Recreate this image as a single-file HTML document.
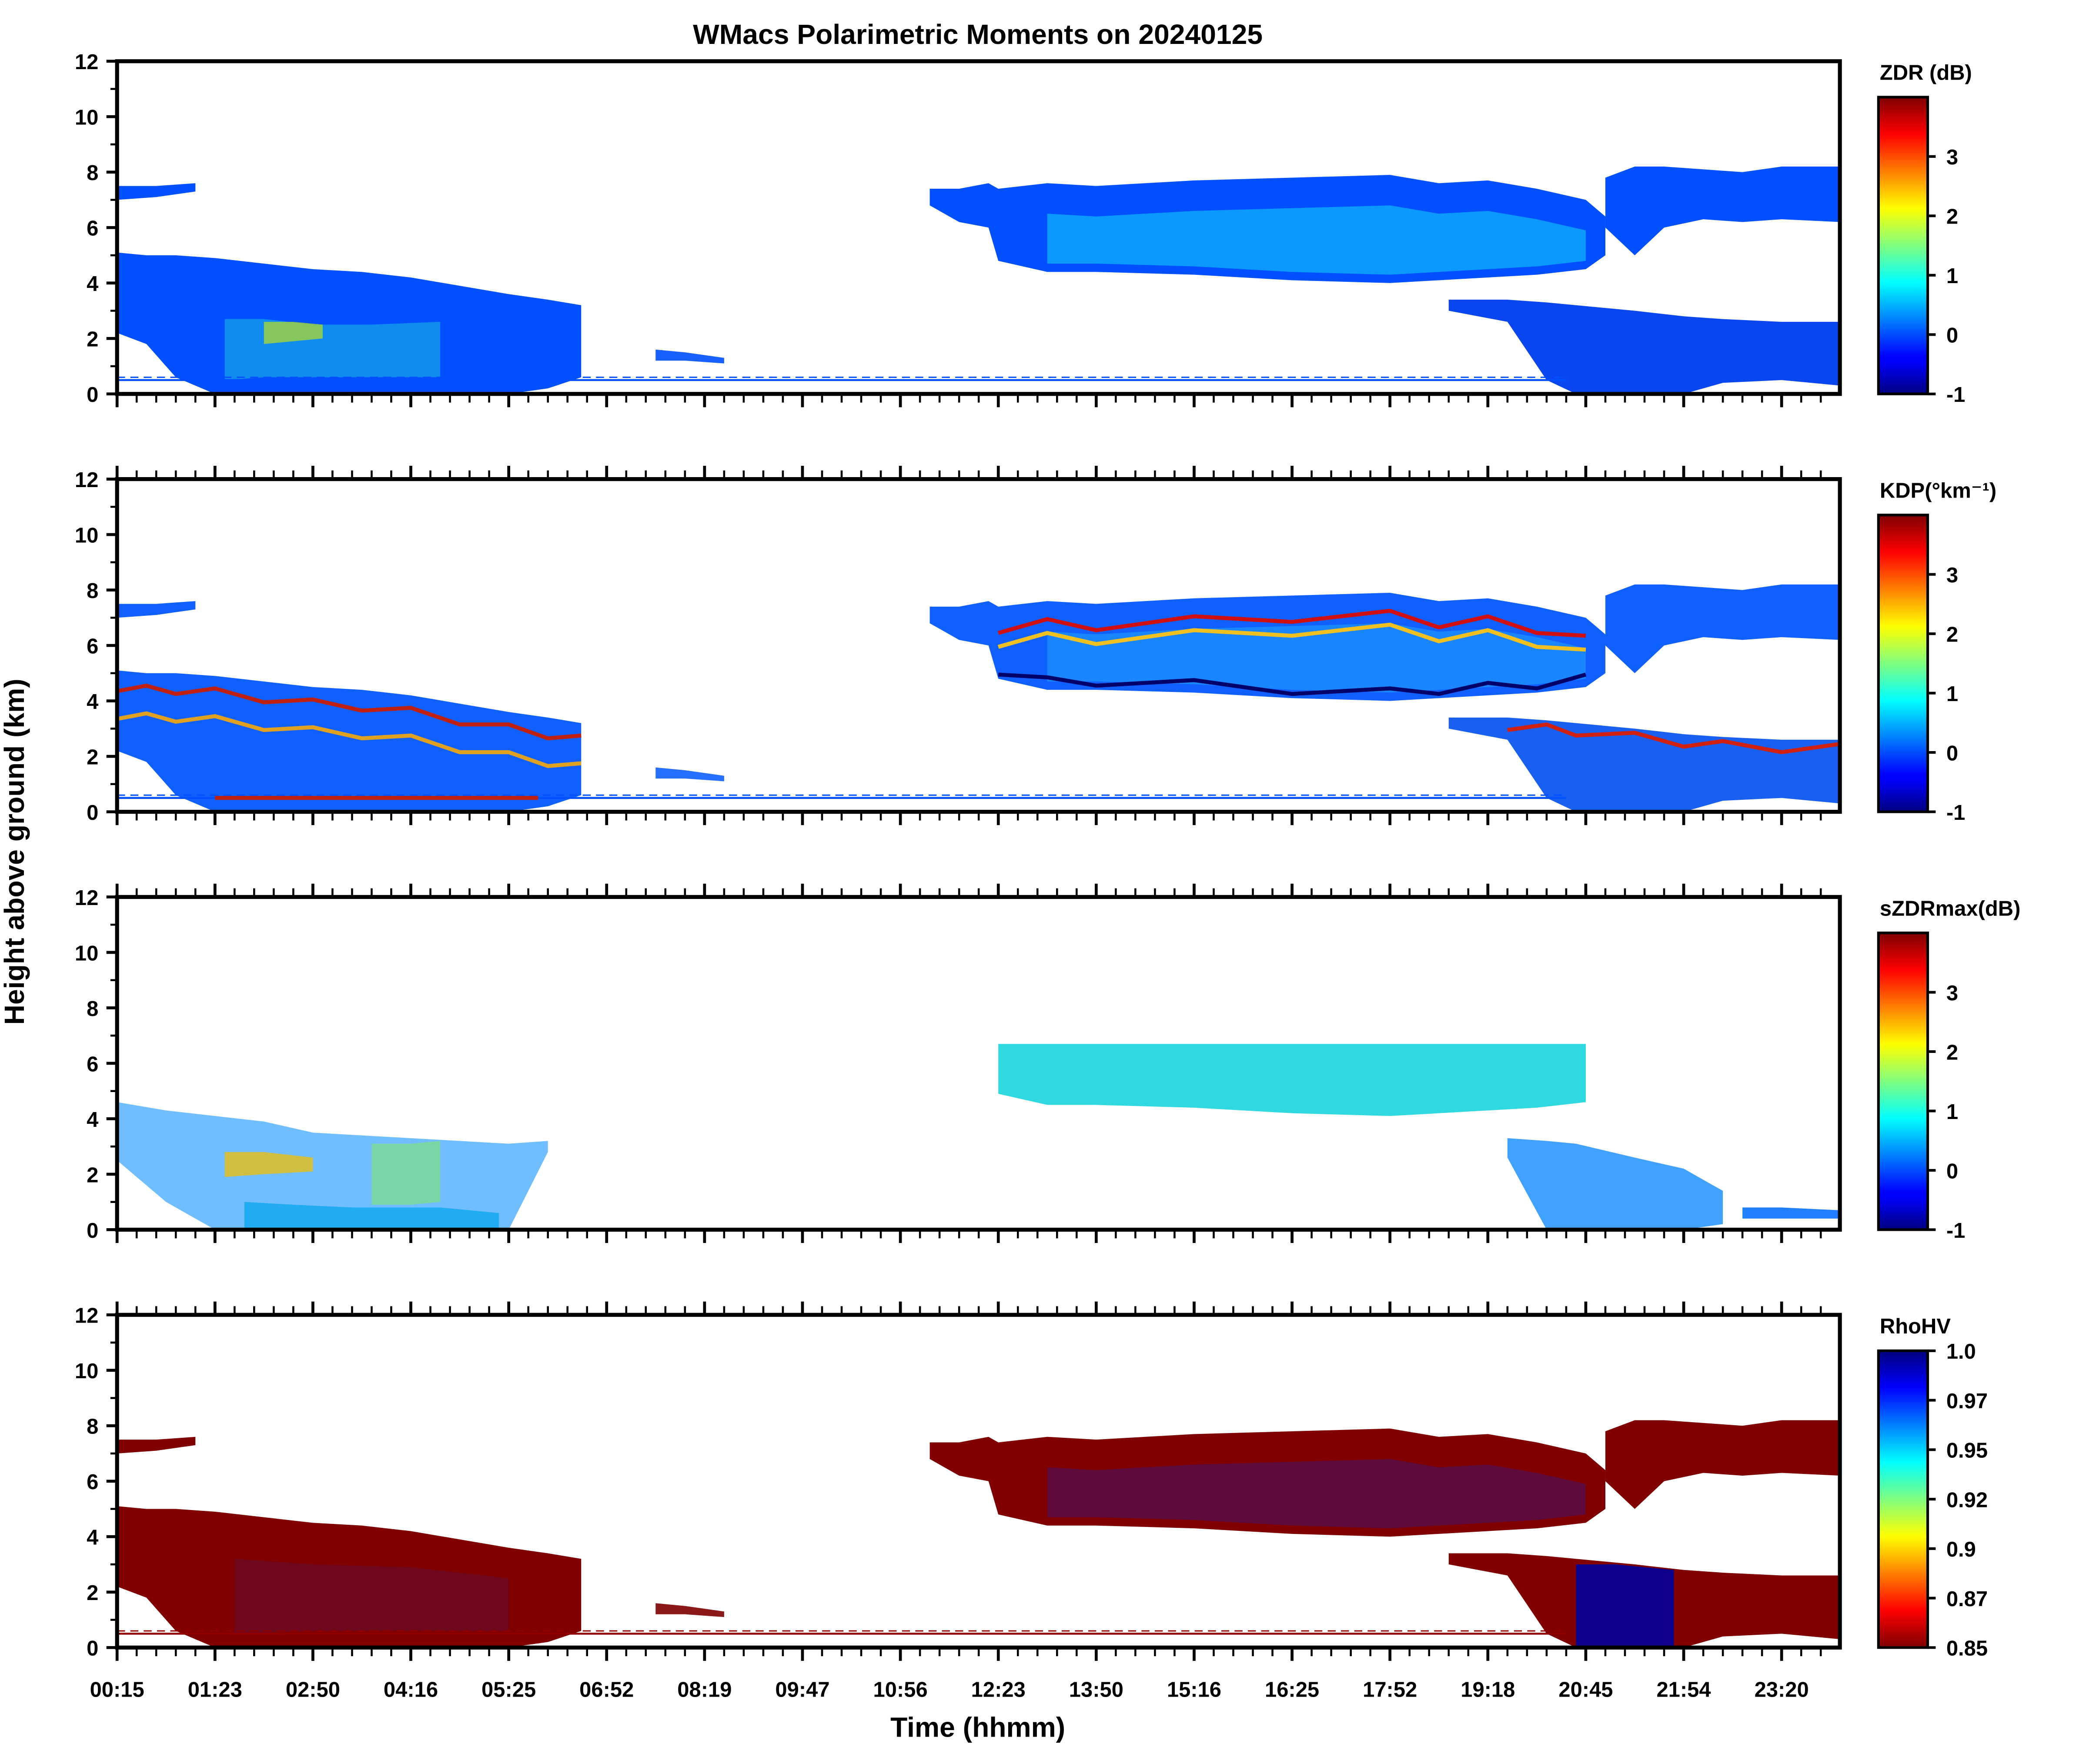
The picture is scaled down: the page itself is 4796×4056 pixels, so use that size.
<!DOCTYPE html>
<html><head><meta charset="utf-8"><style>
html,body{margin:0;padding:0;background:#fff}
svg{display:block}
text{font-family:"Liberation Sans","DejaVu Sans",sans-serif;font-weight:bold;fill:#000}
</style></head><body>
<svg id="chart" width="4796" height="4056" viewBox="0 0 1568 1325.5" preserveAspectRatio="none" xmlns="http://www.w3.org/2000/svg">
<defs>
<linearGradient id="jet" x1="0" y1="1" x2="0" y2="0">
<stop offset="0" stop-color="#00007f"/><stop offset="0.11" stop-color="#0000ff"/><stop offset="0.125" stop-color="#0000ff"/><stop offset="0.375" stop-color="#00ffff"/><stop offset="0.625" stop-color="#ffff00"/><stop offset="0.875" stop-color="#ff0000"/><stop offset="1" stop-color="#7f0000"/>
</linearGradient>
<linearGradient id="jetr" x1="0" y1="0" x2="0" y2="1">
<stop offset="0" stop-color="#00007f"/><stop offset="0.125" stop-color="#0000ff"/><stop offset="0.375" stop-color="#00ffff"/><stop offset="0.625" stop-color="#ffff00"/><stop offset="0.875" stop-color="#ff0000"/><stop offset="1" stop-color="#7f0000"/>
</linearGradient>
</defs>
</svg>
<script>
// ---- data ----
const timeLabels=["00:15","01:23","02:50","04:16","05:25","06:52","08:19","09:47","10:56","12:23","13:50","15:16","16:25","17:52","19:18","20:45","21:54","23:20"];
const heightTicks=[0,2,4,6,8,10,12];
const layerAU=[0,0.3,0.6,1,1.5,2,2.5,3,3.5,4,4.4,4.74];
const layerATop=[5.1,5.0,5.0,4.9,4.7,4.5,4.4,4.2,3.9,3.6,3.4,3.2];
const layerABot=[2.2,1.8,0.6,0,0,0,0,0,0,0,0.2,0.6];
const capU=[0,0.4,0.8];const capTop=[7.5,7.5,7.6];const capBot=[7.0,7.1,7.3];
const layerBU=[8.3,8.6,8.9,9.0,9.5,10,11,12,13,13.5,14,14.5,15,15.2];
const layerBTop=[7.4,7.4,7.6,7.4,7.6,7.5,7.7,7.8,7.9,7.6,7.7,7.4,7.0,6.4];
const layerBBot=[6.8,6.2,6.0,4.8,4.4,4.4,4.3,4.1,4.0,4.1,4.2,4.3,4.5,5.0];
const layerB2U=[15.2,15.5,15.8,16.2,16.6,17,17.6];
const layerB2Top=[7.8,8.2,8.2,8.1,8.0,8.2,8.2];
const layerB2Bot=[6.0,5.0,6.0,6.3,6.2,6.3,6.2];
const layerCU=[13.6,14.2,14.6,14.9,15.5,16,16.4,17,17.6];
const layerCTop=[3.4,3.4,3.3,3.2,3.0,2.8,2.7,2.6,2.6];
const layerCBot=[3.0,2.6,0.5,0,0,0,0.4,0.5,0.3];
const lowU=[5.5,5.8,6.2];const lowTop=[1.6,1.5,1.3];const lowBot=[1.2,1.2,1.1];
const cbTicks=[[-1,0,1,2,3],[-1,0,1,2,3],[-1,0,1,2,3],[0.85,0.87,0.9,0.92,0.95,0.97,1.0]];
const cbTickLabels=[["-1","0","1","2","3"],["-1","0","1","2","3"],["-1","0","1","2","3"],["0.85","0.87","0.9","0.92","0.95","0.97","1.0"]];
const cbTitles=["ZDR (dB)","KDP(°km⁻¹)","sZDRmax(dB)","RhoHV"];
// ---- layout ----
const svg=document.getElementById('chart');const NS='http://www.w3.org/2000/svg';
const X0=88,X1=1383,UNIT=73.6;
const panelTops=[46,360,674,988],PH=250;
function xs(u){return X0+u*UNIT;}
function el(tag,attrs,parent){const e=document.createElementNS(NS,tag);for(const k in attrs)e.setAttribute(k,attrs[k]);(parent||svg).appendChild(e);return e;}
function txt(s,x,y,size,anchor,parent){const t=el('text',{x:x,y:y,'font-size':size,'text-anchor':anchor||'start'},parent);t.textContent=s;return t;}
function band(g,U,T,B,ys,fill,op){let p=[];for(let i=0;i<U.length;i++)p.push(xs(U[i])+','+ys(T[i]));for(let i=U.length-1;i>=0;i--)p.push(xs(U[i])+','+ys(B[i]));const e=el('polygon',{points:p.join(' '),fill:fill,opacity:op||1},g);return e;}
function scaleArr(A,f){return A.map(f);}

const styles=[
 {a:'#0050ff',b:'#0050ff',c:'#0a46f0',inner:'#10b8ff',innerOp:0.7,line:'#0050ff'},
 {a:'#1060ff',b:'#1060ff',c:'#1a60f0',inner:'#20a0ff',innerOp:0.6,line:'#0050ff'},
 null,
 {a:'#800000',b:'#800000',c:'#800000',inner:'#2a1a90',innerOp:0.4,line:'#900000'}
];

txt('WMacs Polarimetric Moments on 20240125',735,33,21,'middle');

for(let p=0;p<4;p++){
 const top=panelTops[p],bot=top+PH;
 const ys=v=>bot-v/12*PH;
 const g=el('g',{});
 
 
 const st=styles[p];
 if(p!==2){
  band(g,capU,capTop,capBot,ys,st.a);
  const a=band(g,layerAU,layerATop,layerABot,ys,st.a);
  const b=band(g,layerBU,layerBTop,layerBBot,ys,st.b);
  band(g,layerB2U,layerB2Top,layerB2Bot,ys,st.b);
  const c=band(g,layerCU,layerCTop,layerCBot,ys,st.c);
  band(g,lowU,lowTop,lowBot,ys,st.a,0.9);
  band(g,layerBU.slice(4,13),scaleArr(layerBTop.slice(4,13),v=>v-1.1),scaleArr(layerBBot.slice(4,13),v=>v+0.3),ys,st.inner,st.innerOp);
  if(p===3){band(g,[14.9,15.3,15.9],[3.0,3.0,2.8],[0,0,0],ys,'#00009a',0.9);band(g,[1.2,2.0,3.0,4.0],[3.2,3.0,2.9,2.5],[0.5,0.6,0.6,0.6],ys,'#1030c0',0.15);}
  if(p===0){band(g,[1.1,1.5,2,2.6,3.3],[2.7,2.7,2.5,2.5,2.6],[0.5,0.6,0.6,0.6,0.6],ys,'#20c8e0',0.5);band(g,[1.5,1.8,2.1],[2.6,2.6,2.5],[1.8,1.9,2.0],ys,'#b8e020',0.7);}
  el('line',{x1:xs(0),x2:xs(14.8),y1:ys(0.5),y2:ys(0.5),stroke:st.line,'stroke-width':1.5},g);
  el('line',{x1:xs(0),x2:xs(14.8),y1:ys(0.6),y2:ys(0.6),stroke:st.line,'stroke-width':1,'stroke-dasharray':'6 4'},g);
  if(p===1){
   const stripes=[[layerBU.slice(3,13),layerBTop.slice(3,13),-0.8,'#d01010'],[layerBU.slice(3,13),layerBTop.slice(3,13),-1.3,'#f0c020'],[layerBU.slice(3,13),layerBBot.slice(3,13),0.3,'#00006a'],[layerAU,layerATop,-0.6,'#c02010'],[layerAU,layerATop,-1.6,'#e0a020'],[layerCU.slice(1),layerCTop.slice(1),-0.3,'#d02010']];
   stripes.forEach(s=>{const pts=s[0].map((u,i)=>xs(u)+','+ys(s[1][i]+s[2]+((i%2)?0.15:-0.15))).join(' ');el('polyline',{points:pts,fill:'none',stroke:s[3],'stroke-width':3},g);});
   el('line',{x1:xs(1),x2:xs(4.3),y1:ys(0.5),y2:ys(0.5),stroke:'#c02010','stroke-width':3},g);
  }
 } else {
  band(g,layerBU.slice(3,13),scaleArr(layerBTop.slice(3,13),v=>Math.min(v,7.0)-0.3),scaleArr(layerBBot.slice(3,13),v=>v+0.1),ys,'#30d8e0');
  band(g,[0,0.5,1,1.5,2,2.5,3,3.5,4,4.4],[4.6,4.3,4.1,3.9,3.5,3.4,3.3,3.2,3.1,3.2],[2.5,1.0,0,0,0,0,0,0,0,2.8],ys,'#40a8ff',0.75);
  band(g,[1.3,1.8,2.4,3.3,3.9],[1.0,0.9,0.8,0.8,0.6],[0,0,0,0,0],ys,'#18a8f0',0.9);
  band(g,[1.1,1.5,2.0],[2.8,2.8,2.6],[1.9,2.0,2.1],ys,'#e0c020',0.85);
  band(g,[2.6,3.0,3.3],[3.1,3.1,3.2],[0.9,0.9,1.0],ys,'#80e080',0.7);
  band(g,layerCU.slice(1,7),[3.3,3.2,3.1,2.6,2.2,1.4],[2.6,0,0,0,0,0.2],ys,'#2090ff',0.85);
  band(g,[16.6,17,17.6],[0.8,0.8,0.7],[0.4,0.4,0.4],ys,'#2080ff');
 }
 el('rect',{x:X0,y:top,width:X1-X0,height:PH,fill:'none',stroke:'#000','stroke-width':3},g);
 for(let k=0;k<=17*5+3;k++){const u=k/5;if(xs(u)>X1)break;const maj=k%5===0,L=maj?10:6.5,w=maj?2.2:1.5;
  el('line',{x1:xs(u),x2:xs(u),y1:bot,y2:bot+L,stroke:'#000','stroke-width':w},g);
  if(p>0)el('line',{x1:xs(u),x2:xs(u),y1:top,y2:top-L,stroke:'#000','stroke-width':w},g);}
 for(let v=0;v<=12;v++){const maj=v%2===0;el('line',{x1:X0,x2:X0-(maj?8:5),y1:ys(v),y2:ys(v),stroke:'#000','stroke-width':maj?2.2:1.5},g);}
 heightTicks.forEach(v=>{const t=txt(String(v),X0-14,ys(v)+6,16,'end',g);});
 const cbT=top+27,cbB=bot,cx=1412,cw=37;
 const cb=el('rect',{x:cx,y:cbT,width:cw,height:cbB-cbT,fill:p===3?'url(#jetr)':'url(#jet)',stroke:'#000','stroke-width':2},g);
 
 
 const vmin=p===3?0.85:-1,vmax=p===3?1.0:4;
 cbTicks[p].forEach((v,i)=>{let y;if(p===3)y=cbB-i*(cbB-cbT)/6;else y=cbB-(v-vmin)/(vmax-vmin)*(cbB-cbT);
  el('line',{x1:cx+cw,x2:cx+cw+6,y1:y,y2:y,stroke:'#000','stroke-width':2},g);
  txt(cbTickLabels[p][i],cx+cw+14,y+6,16,'start',g);});
 const ct=txt(cbTitles[p],1413,top+14,16,'start',g);
}
timeLabels.forEach((s,i)=>{const t=txt(s,xs(i),1275,16,'middle');});
const xl=txt('Time (hhmm)',735,1305,21,'middle');
const yl=txt('Height above ground (km)',0,0,21,'middle');yl.setAttribute('transform','translate(18,640) rotate(-90)');
</script>
</body></html>
